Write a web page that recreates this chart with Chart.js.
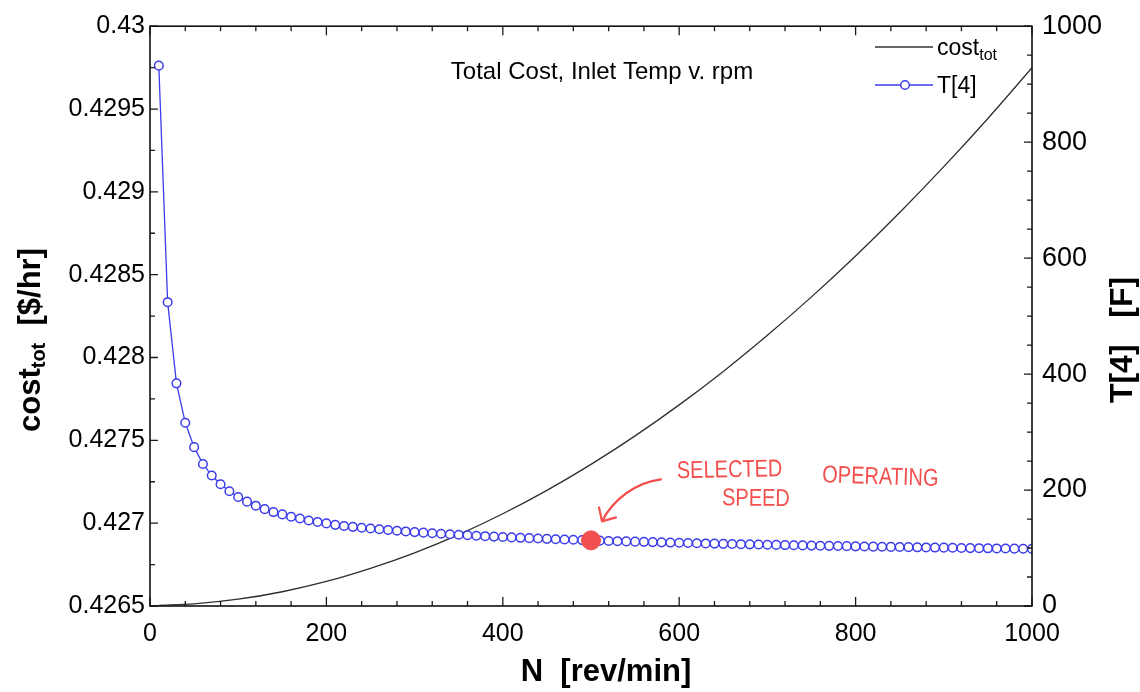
<!DOCTYPE html>
<html>
<head>
<meta charset="utf-8">
<script src="https://cdn.jsdelivr.net/npm/chart.js@4.4.1/dist/chart.umd.min.js"></script>
<style>
  html, body { margin: 0; padding: 0; background: #fff; }
  #wrap { width: 1140px; height: 692px; position: relative; }
</style>
</head>
<body>
<div id="wrap"><canvas id="c" width="1140" height="692"></canvas></div>
<script>
// Shaft speed N [rev/min] for the inlet temperature run
const speeds = [10,20,30,40,50,60,70,80,90,100,110,120,130,140,150,160,170,180,190,200,
  210,220,230,240,250,260,270,280,290,300,310,320,330,340,350,360,370,380,390,400,
  410,420,430,440,450,460,470,480,490,500,510,520,530,540,550,560,570,580,590,600,
  610,620,630,640,650,660,670,680,690,700,710,720,730,740,750,760,770,780,790,800,
  810,820,830,840,850,860,870,880,890,900,910,920,930,940,950,960,970,980,990,1000];

// Inlet temperature T[4] [F]
const inletTemp = [932,524,384,316,274,245,225,210,198,188,180,173,167,162,158,154,151,147.5,145,142.5,
  140,138,136.5,135,133.6,132.3,131,129.8,128.6,127.5,126.5,125.5,124.6,123.7,122.8,122,121.2,120.4,119.7,119,
  118.3,117.6,117,116.4,115.8,115.2,114.7,114.2,113.7,113.2,112.7,112.2,111.8,111.4,111,110.6,110.2,109.8,109.4,109,
  108.6,108.3,107.9,107.6,107.2,106.9,106.6,106.3,106,105.7,105.4,105.1,104.8,104.5,104.2,104,103.7,103.4,103.2,102.9,
  102.7,102.4,102.2,101.9,101.7,101.5,101.2,101,100.8,100.6,100.4,100.1,99.9,99.7,99.5,99.3,99.1,98.9,98.7,98.5];

// Total cost [$/hr] versus speed
const costSpeeds = [10,50,100,150,200,250,300,350,400,450,500,550,600,650,700,750,800,850,900,950,1000];
const costTot = [0.4265035,0.426513,0.426541,0.426586,0.426648,0.426727,0.426821,0.426931,0.427057,0.427198,
  0.427355,0.427527,0.427714,0.427916,0.428134,0.428366,0.428613,0.428875,0.429152,0.429443,0.429749];

// Selected operating point
const selectedSpeed = 500;
const selectedTemp = 113.2;

// Axis ticks
const speedTicks = [0,200,400,600,800,1000];
const costTicks = [0.4265,0.427,0.4275,0.428,0.4285,0.429,0.4295,0.43];
const costTickLabels = ['0.4265','0.427','0.4275','0.428','0.4285','0.429','0.4295','0.43'];
const tempTicks = [0,200,400,600,800,1000];

const FONT = '"Liberation Sans", Arial, Helvetica, sans-serif';
Chart.defaults.font.family = FONT;
Chart.defaults.color = '#000';

const BLUE = '#3c3cec';
const RED = '#f1504e';

function useTicks(values) {
  return scale => { scale.ticks = values.map(v => ({ value: v })); };
}

// Draw a run of text pieces (used for subscripts); returns total width
function richText(ctx, parts, x, y, align) {
  let total = 0;
  parts.forEach(p => { ctx.font = p.font; total += ctx.measureText(p.text).width; });
  let cx = align === 'center' ? x - total / 2 : x;
  ctx.textAlign = 'left';
  ctx.textBaseline = 'alphabetic';
  parts.forEach(p => {
    ctx.font = p.font;
    ctx.fillText(p.text, cx, y + (p.dy || 0));
    cx += ctx.measureText(p.text).width;
  });
  return total;
}

const frameAndLabels = {
  id: 'frameAndLabels',
  afterDraw(chart) {
    const { ctx, chartArea: a, scales } = chart;
    const xs = scales.x, yc = scales.yCost, yt = scales.yT;
    ctx.save();

    // inward tick marks
    ctx.strokeStyle = '#1a1a1a';
    ctx.lineWidth = 1.3;
    ctx.beginPath();
    for (let v = 0; v <= 1000; v += 40) {
      const px = xs.getPixelForValue(v);
      const len = v % 200 === 0 ? 9 : 5;
      ctx.moveTo(px, a.bottom); ctx.lineTo(px, a.bottom - len);
      ctx.moveTo(px, a.top); ctx.lineTo(px, a.top + len);
    }
    for (let k = 0; k <= 14; k++) {
      const py = yc.getPixelForValue(costTicks[0] + k * 0.00025);
      const len = k % 2 === 0 ? 8 : 5;
      ctx.moveTo(a.left, py); ctx.lineTo(a.left + len, py);
    }
    for (let v = 0; v <= 1000; v += 50) {
      const py = yt.getPixelForValue(v);
      const len = v % 200 === 0 ? 8 : 5;
      ctx.moveTo(a.right, py); ctx.lineTo(a.right - len, py);
    }
    ctx.stroke();

    // plot frame
    ctx.lineWidth = 1.6;
    ctx.strokeStyle = '#111';
    ctx.strokeRect(a.left, a.top, a.right - a.left, a.bottom - a.top);

    ctx.fillStyle = '#000';

    // chart title inside the plot
    ctx.font = '24px ' + FONT;
    ctx.textAlign = 'center';
    ctx.textBaseline = 'alphabetic';
    ctx.fillText('Total Cost, Inlet Temp v. rpm', 602, 79);

    // legend
    ctx.strokeStyle = '#333';
    ctx.lineWidth = 1.3;
    ctx.beginPath(); ctx.moveTo(875, 47); ctx.lineTo(933, 47); ctx.stroke();
    richText(ctx, [
      { text: 'cost', font: '23px ' + FONT },
      { text: 'tot', font: '16px ' + FONT, dy: 5 }
    ], 937, 55, 'left');
    ctx.strokeStyle = BLUE;
    ctx.beginPath(); ctx.moveTo(875, 85); ctx.lineTo(933, 85); ctx.stroke();
    ctx.fillStyle = '#fff';
    ctx.lineWidth = 1.5;
    ctx.beginPath(); ctx.arc(905, 85, 4.3, 0, Math.PI * 2); ctx.fill(); ctx.stroke();
    ctx.fillStyle = '#000';
    richText(ctx, [{ text: 'T[4]', font: '23px ' + FONT }], 937, 93, 'left');

    // axis titles
    richText(ctx, [{ text: 'N  [rev/min]', font: 'bold 31px ' + FONT }], 606, 681, 'center');

    ctx.save();
    ctx.translate(40, 340);
    ctx.rotate(-Math.PI / 2);
    richText(ctx, [
      { text: 'cost', font: 'bold 31px ' + FONT },
      { text: 'tot', font: 'bold 20px ' + FONT, dy: 5 },
      { text: '  [$/hr]', font: 'bold 31px ' + FONT }
    ], 0, 0, 'center');
    ctx.restore();

    ctx.save();
    ctx.translate(1132, 340);
    ctx.rotate(-Math.PI / 2);
    richText(ctx, [{ text: 'T[4]   [F]', font: 'bold 32px ' + FONT }], 0, 0, 'center');
    ctx.restore();

    // hand-drawn note pointing at the selected speed
    const sx = xs.getPixelForValue(selectedSpeed);
    const sy = yt.getPixelForValue(selectedTemp);
    ctx.strokeStyle = RED;
    ctx.fillStyle = RED;
    ctx.lineWidth = 2.2;
    ctx.lineCap = 'round';
    ctx.lineJoin = 'round';
    ctx.beginPath();
    ctx.moveTo(sx + 70, sy - 61);
    ctx.bezierCurveTo(sx + 45, sy - 58, sx + 22, sy - 41, sx + 11, sy - 19);
    ctx.moveTo(sx + 8, sy - 33);
    ctx.lineTo(sx + 11, sy - 19);
    ctx.lineTo(sx + 25, sy - 23);
    ctx.stroke();

    ctx.font = '20px ' + FONT;
    ctx.textAlign = 'left';
    ctx.textBaseline = 'alphabetic';
    const note = (text, dx, dy, rot) => {
      ctx.save();
      ctx.translate(sx + dx, sy + dy);
      ctx.rotate(rot);
      ctx.scale(1, 1.22);
      ctx.fillText(text, 0, 0);
      ctx.restore();
    };
    note('SELECTED', 86, -62, -0.02);
    note('SPEED', 131, -35, 0.01);
    note('OPERATING', 231, -58, 0.03);

    ctx.restore();
  }
};

new Chart(document.getElementById('c'), {
  type: 'line',
  data: {
    datasets: [
      {
        label: 'selected',
        data: [{ x: selectedSpeed, y: selectedTemp }],
        yAxisID: 'yT',
        showLine: false,
        pointRadius: 9.5,
        pointBackgroundColor: RED,
        pointBorderColor: RED,
        pointBorderWidth: 1
      },
      {
        label: 'T[4]',
        data: speeds.map((n, i) => ({ x: n, y: inletTemp[i] })),
        yAxisID: 'yT',
        borderColor: BLUE,
        borderWidth: 1.3,
        pointRadius: 4.3,
        pointBackgroundColor: '#fff',
        pointBorderColor: BLUE,
        pointBorderWidth: 1.5,
        tension: 0
      },
      {
        label: 'cost_tot',
        data: costSpeeds.map((n, i) => ({ x: n, y: costTot[i] })),
        yAxisID: 'yCost',
        borderColor: '#2e2e2e',
        borderWidth: 1.3,
        pointRadius: 0,
        cubicInterpolationMode: 'monotone'
      }
    ]
  },
  options: {
    responsive: false,
    animation: false,
    events: [],
    layout: { padding: { top: 20, left: 0, right: 0, bottom: 0 } },
    plugins: { legend: { display: false }, tooltip: { enabled: false }, title: { display: false } },
    scales: {
      x: {
        type: 'linear',
        position: 'bottom',
        min: 0, max: 1000,
        afterBuildTicks: useTicks(speedTicks),
        afterFit: s => { s.height = 86; },
        grid: { display: false, drawTicks: false },
        border: { display: false },
        ticks: { font: { size: 25 }, color: '#000', padding: 13, maxRotation: 0, autoSkip: false,
                 callback: v => String(v) }
      },
      yCost: {
        type: 'linear',
        position: 'left',
        min: 0.4265, max: 0.43,
        afterBuildTicks: useTicks(costTicks),
        afterFit: s => { s.width = 150; },
        grid: { display: false, drawTicks: false },
        border: { display: false },
        ticks: { font: { size: 25 }, color: '#000', padding: 5, autoSkip: false,
                 callback: (v, i) => costTickLabels[i] }
      },
      yT: {
        type: 'linear',
        position: 'right',
        min: 0, max: 1000,
        afterBuildTicks: useTicks(tempTicks),
        afterFit: s => { s.width = 108; },
        grid: { display: false, drawTicks: false },
        border: { display: false },
        ticks: { font: { size: 27 }, color: '#000', padding: 10, autoSkip: false,
                 callback: v => String(v) }
      }
    }
  },
  plugins: [frameAndLabels]
});
</script>
</body>
</html>
